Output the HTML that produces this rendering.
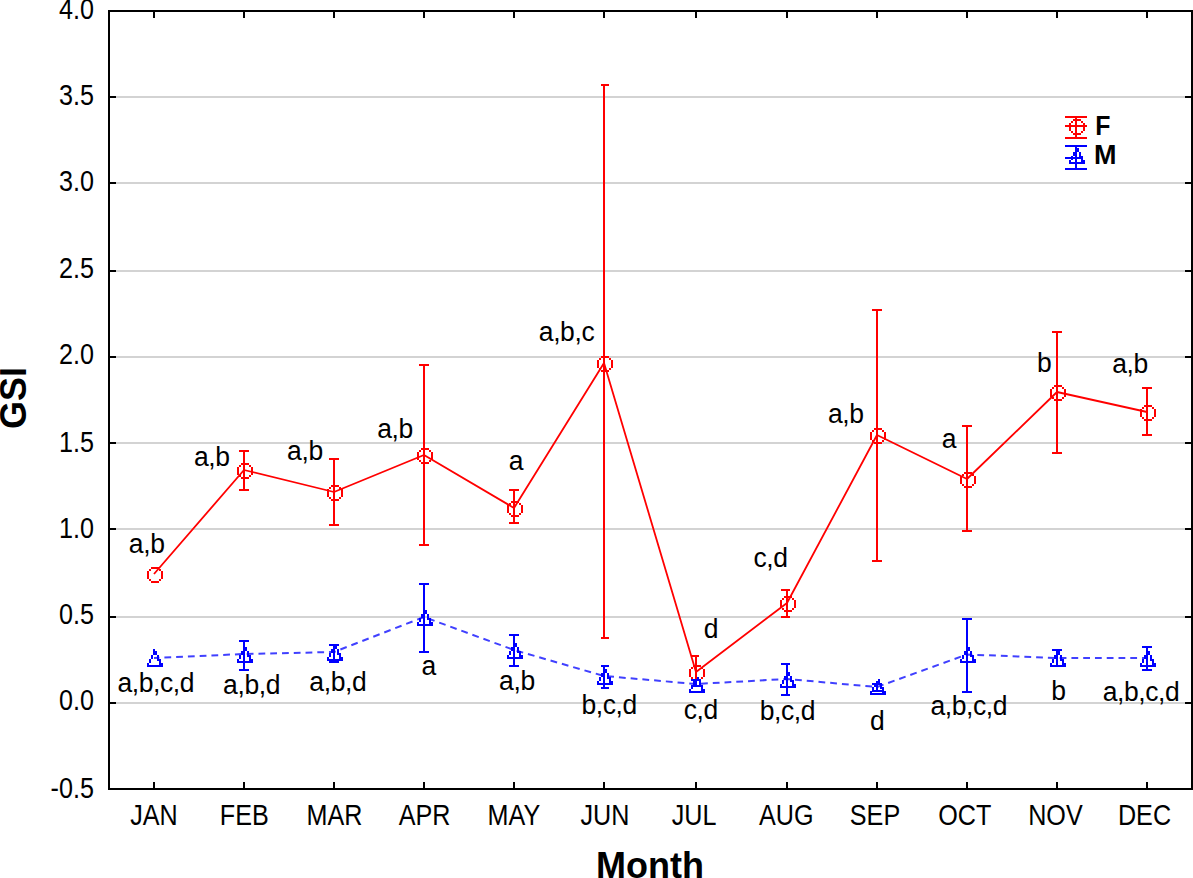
<!DOCTYPE html>
<html><head><meta charset="utf-8"><title>GSI by month</title>
<style>
html,body{margin:0;padding:0;background:#fff;overflow:hidden;}
body{width:1193px;height:878px;font-family:"Liberation Sans",sans-serif;}
svg{display:block;}
svg text{font-family:"Liberation Sans",sans-serif;}
</style></head><body>
<svg width="1193" height="878" viewBox="0 0 1193 878">
<rect width="1193" height="878" fill="#fff"/>
<g shape-rendering="crispEdges">
<rect x="116" y="96" width="1069" height="2" fill="#d3d3d3"/>
<rect x="116" y="182" width="1069" height="2" fill="#d3d3d3"/>
<rect x="116" y="270" width="1069" height="2" fill="#d3d3d3"/>
<rect x="116" y="356" width="1069" height="2" fill="#d3d3d3"/>
<rect x="116" y="442" width="1069" height="2" fill="#d3d3d3"/>
<rect x="116" y="528" width="1069" height="2" fill="#d3d3d3"/>
<rect x="116" y="616" width="1069" height="2" fill="#d3d3d3"/>
<rect x="116" y="702" width="1069" height="2" fill="#d3d3d3"/>
<rect x="108" y="10" width="1085" height="2" fill="#000"/>
<rect x="108" y="788" width="1085" height="2" fill="#000"/>
<rect x="108" y="10" width="2" height="780" fill="#000"/>
<rect x="1191" y="10" width="2" height="780" fill="#000"/>
<rect x="110" y="96" width="6" height="2" fill="#000"/>
<rect x="1185" y="96" width="6" height="2" fill="#000"/>
<rect x="110" y="182" width="6" height="2" fill="#000"/>
<rect x="1185" y="182" width="6" height="2" fill="#000"/>
<rect x="110" y="270" width="6" height="2" fill="#000"/>
<rect x="1185" y="270" width="6" height="2" fill="#000"/>
<rect x="110" y="356" width="6" height="2" fill="#000"/>
<rect x="1185" y="356" width="6" height="2" fill="#000"/>
<rect x="110" y="442" width="6" height="2" fill="#000"/>
<rect x="1185" y="442" width="6" height="2" fill="#000"/>
<rect x="110" y="528" width="6" height="2" fill="#000"/>
<rect x="1185" y="528" width="6" height="2" fill="#000"/>
<rect x="110" y="616" width="6" height="2" fill="#000"/>
<rect x="1185" y="616" width="6" height="2" fill="#000"/>
<rect x="110" y="702" width="6" height="2" fill="#000"/>
<rect x="1185" y="702" width="6" height="2" fill="#000"/>
<rect x="153" y="12" width="2" height="6" fill="#000"/>
<rect x="153" y="782" width="2" height="6" fill="#000"/>
<rect x="243" y="12" width="2" height="6" fill="#000"/>
<rect x="243" y="782" width="2" height="6" fill="#000"/>
<rect x="333" y="12" width="2" height="6" fill="#000"/>
<rect x="333" y="782" width="2" height="6" fill="#000"/>
<rect x="423" y="12" width="2" height="6" fill="#000"/>
<rect x="423" y="782" width="2" height="6" fill="#000"/>
<rect x="513" y="12" width="2" height="6" fill="#000"/>
<rect x="513" y="782" width="2" height="6" fill="#000"/>
<rect x="603" y="12" width="2" height="6" fill="#000"/>
<rect x="603" y="782" width="2" height="6" fill="#000"/>
<rect x="695" y="12" width="2" height="6" fill="#000"/>
<rect x="695" y="782" width="2" height="6" fill="#000"/>
<rect x="786" y="12" width="2" height="6" fill="#000"/>
<rect x="786" y="782" width="2" height="6" fill="#000"/>
<rect x="876" y="12" width="2" height="6" fill="#000"/>
<rect x="876" y="782" width="2" height="6" fill="#000"/>
<rect x="966" y="12" width="2" height="6" fill="#000"/>
<rect x="966" y="782" width="2" height="6" fill="#000"/>
<rect x="1056" y="12" width="2" height="6" fill="#000"/>
<rect x="1056" y="782" width="2" height="6" fill="#000"/>
<rect x="1146" y="12" width="2" height="6" fill="#000"/>
<rect x="1146" y="782" width="2" height="6" fill="#000"/>
</g>
<polyline points="154,658 244,654 334,652 424,617 514,650 604,676 696,684 787,679 877,687.0 967,654.5 1057,658 1147,658" fill="none" stroke="#0000ff" stroke-width="2" stroke-dasharray="6.8 4.97" stroke-dashoffset="1.37" opacity="0.75"/>
<polyline points="154,574 244,470 334,492 424,455 514,508 604,363 696,672 787,603 877,435 967,479 1057,392 1147,412" fill="none" stroke="#ff0000" stroke-width="1.8" stroke-linejoin="round"/>
<g shape-rendering="crispEdges">
<path d="M151 567h8v2h-8zM149 569h2v2h-2zM159 569h2v2h-2zM147 571h2v8h-2zM161 571h2v8h-2zM149 579h2v2h-2zM159 579h2v2h-2zM151 581h8v2h-8z" fill="#ff0000"/>
<rect x="243" y="450" width="2" height="41" fill="#ff0000"/>
<rect x="239" y="450" width="10" height="2" fill="#ff0000"/>
<rect x="239" y="489" width="10" height="2" fill="#ff0000"/>
<path d="M241 463h8v2h-8zM239 465h2v2h-2zM249 465h2v2h-2zM237 467h2v8h-2zM251 467h2v8h-2zM239 475h2v2h-2zM249 475h2v2h-2zM241 477h8v2h-8z" fill="#ff0000"/>
<rect x="333" y="458" width="2" height="68" fill="#ff0000"/>
<rect x="329" y="458" width="10" height="2" fill="#ff0000"/>
<rect x="329" y="524" width="10" height="2" fill="#ff0000"/>
<path d="M331 485h8v2h-8zM329 487h2v2h-2zM339 487h2v2h-2zM327 489h2v8h-2zM341 489h2v8h-2zM329 497h2v2h-2zM339 497h2v2h-2zM331 499h8v2h-8z" fill="#ff0000"/>
<rect x="423" y="364" width="2" height="182" fill="#ff0000"/>
<rect x="419" y="364" width="10" height="2" fill="#ff0000"/>
<rect x="419" y="544" width="10" height="2" fill="#ff0000"/>
<path d="M421 448h8v2h-8zM419 450h2v2h-2zM429 450h2v2h-2zM417 452h2v8h-2zM431 452h2v8h-2zM419 460h2v2h-2zM429 460h2v2h-2zM421 462h8v2h-8z" fill="#ff0000"/>
<rect x="513" y="489" width="2" height="35" fill="#ff0000"/>
<rect x="509" y="489" width="10" height="2" fill="#ff0000"/>
<rect x="509" y="522" width="10" height="2" fill="#ff0000"/>
<path d="M511 501h8v2h-8zM509 503h2v2h-2zM519 503h2v2h-2zM507 505h2v8h-2zM521 505h2v8h-2zM509 513h2v2h-2zM519 513h2v2h-2zM511 515h8v2h-8z" fill="#ff0000"/>
<rect x="603" y="84" width="2" height="555" fill="#ff0000"/>
<rect x="601" y="84" width="8" height="2" fill="#ff0000"/>
<rect x="601" y="637" width="8" height="2" fill="#ff0000"/>
<path d="M601 356h8v2h-8zM599 358h2v2h-2zM609 358h2v2h-2zM597 360h2v8h-2zM611 360h2v8h-2zM599 368h2v2h-2zM609 368h2v2h-2zM601 370h8v2h-8z" fill="#ff0000"/>
<rect x="695" y="655" width="2" height="26" fill="#ff0000"/>
<rect x="691" y="655" width="8" height="2" fill="#ff0000"/>
<rect x="691" y="679" width="8" height="2" fill="#ff0000"/>
<path d="M693 665h8v2h-8zM691 667h2v2h-2zM701 667h2v2h-2zM689 669h2v8h-2zM703 669h2v8h-2zM691 677h2v2h-2zM701 677h2v2h-2zM693 679h8v2h-8z" fill="#ff0000"/>
<rect x="786" y="589" width="2" height="29" fill="#ff0000"/>
<rect x="781" y="589" width="9" height="2" fill="#ff0000"/>
<rect x="781" y="616" width="9" height="2" fill="#ff0000"/>
<path d="M784 596h8v2h-8zM782 598h2v2h-2zM792 598h2v2h-2zM780 600h2v8h-2zM794 600h2v8h-2zM782 608h2v2h-2zM792 608h2v2h-2zM784 610h8v2h-8z" fill="#ff0000"/>
<rect x="876" y="309" width="2" height="253" fill="#ff0000"/>
<rect x="872" y="309" width="10" height="2" fill="#ff0000"/>
<rect x="872" y="560" width="10" height="2" fill="#ff0000"/>
<path d="M874 428h8v2h-8zM872 430h2v2h-2zM882 430h2v2h-2zM870 432h2v8h-2zM884 432h2v8h-2zM872 440h2v2h-2zM882 440h2v2h-2zM874 442h8v2h-8z" fill="#ff0000"/>
<rect x="966" y="425" width="2" height="107" fill="#ff0000"/>
<rect x="962" y="425" width="10" height="2" fill="#ff0000"/>
<rect x="962" y="530" width="10" height="2" fill="#ff0000"/>
<path d="M964 472h8v2h-8zM962 474h2v2h-2zM972 474h2v2h-2zM960 476h2v8h-2zM974 476h2v8h-2zM962 484h2v2h-2zM972 484h2v2h-2zM964 486h8v2h-8z" fill="#ff0000"/>
<rect x="1056" y="331" width="2" height="123" fill="#ff0000"/>
<rect x="1052" y="331" width="10" height="2" fill="#ff0000"/>
<rect x="1052" y="452" width="10" height="2" fill="#ff0000"/>
<path d="M1054 385h8v2h-8zM1052 387h2v2h-2zM1062 387h2v2h-2zM1050 389h2v8h-2zM1064 389h2v8h-2zM1052 397h2v2h-2zM1062 397h2v2h-2zM1054 399h8v2h-8z" fill="#ff0000"/>
<rect x="1146" y="387" width="2" height="49" fill="#ff0000"/>
<rect x="1142" y="387" width="10" height="2" fill="#ff0000"/>
<rect x="1142" y="434" width="10" height="2" fill="#ff0000"/>
<path d="M1144 405h8v2h-8zM1142 407h2v2h-2zM1152 407h2v2h-2zM1140 409h2v8h-2zM1154 409h2v8h-2zM1142 417h2v2h-2zM1152 417h2v2h-2zM1144 419h8v2h-8z" fill="#ff0000"/>
<path d="M153 651h4v2h-4zM153 653h4v2h-4zM151 655h2v2h-2zM157 655h2v2h-2zM151 657h2v2h-2zM157 657h2v2h-2zM149 659h2v2h-2zM157 659h4v2h-4zM149 661h2v2h-2zM159 661h2v2h-2zM147 663h2v2h-2zM159 663h4v2h-4zM147 665h16v2h-16z" fill="#0000ff"/>
<rect x="243" y="640" width="2" height="31" fill="#0000ff"/>
<rect x="239" y="640" width="10" height="2" fill="#0000ff"/>
<rect x="239" y="669" width="10" height="2" fill="#0000ff"/>
<path d="M245 647h2v2h-2zM243 649h4v2h-4zM241 651h2v2h-2zM247 651h2v2h-2zM241 653h2v2h-2zM247 653h2v2h-2zM239 655h2v2h-2zM247 655h4v2h-4zM239 657h2v2h-2zM249 657h2v2h-2zM237 659h2v2h-2zM249 659h4v2h-4zM237 661h16v2h-16z" fill="#0000ff"/>
<rect x="333" y="644" width="2" height="19" fill="#0000ff"/>
<rect x="329" y="644" width="10" height="2" fill="#0000ff"/>
<rect x="329" y="661" width="10" height="2" fill="#0000ff"/>
<path d="M335 645h2v2h-2zM333 647h4v2h-4zM331 649h2v2h-2zM337 649h2v2h-2zM331 651h2v2h-2zM337 651h2v2h-2zM329 653h2v2h-2zM337 653h4v2h-4zM329 655h2v2h-2zM339 655h2v2h-2zM327 657h2v2h-2zM339 657h4v2h-4zM327 659h16v2h-16z" fill="#0000ff"/>
<rect x="423" y="583" width="2" height="70" fill="#0000ff"/>
<rect x="419" y="583" width="10" height="2" fill="#0000ff"/>
<rect x="419" y="651" width="10" height="2" fill="#0000ff"/>
<path d="M425 610h2v2h-2zM423 612h4v2h-4zM421 614h2v2h-2zM427 614h2v2h-2zM421 616h2v2h-2zM427 616h2v2h-2zM419 618h2v2h-2zM427 618h4v2h-4zM419 620h2v2h-2zM429 620h2v2h-2zM417 622h2v2h-2zM429 622h4v2h-4zM417 624h16v2h-16z" fill="#0000ff"/>
<rect x="513" y="634" width="2" height="33" fill="#0000ff"/>
<rect x="509" y="634" width="10" height="2" fill="#0000ff"/>
<rect x="509" y="665" width="10" height="2" fill="#0000ff"/>
<path d="M515 643h2v2h-2zM513 645h4v2h-4zM511 647h2v2h-2zM517 647h2v2h-2zM511 649h2v2h-2zM517 649h2v2h-2zM509 651h2v2h-2zM517 651h4v2h-4zM509 653h2v2h-2zM519 653h2v2h-2zM507 655h2v2h-2zM519 655h4v2h-4zM507 657h16v2h-16z" fill="#0000ff"/>
<rect x="603" y="665" width="2" height="24" fill="#0000ff"/>
<rect x="601" y="665" width="8" height="2" fill="#0000ff"/>
<rect x="601" y="687" width="8" height="2" fill="#0000ff"/>
<path d="M605 669h2v2h-2zM603 671h4v2h-4zM601 673h2v2h-2zM607 673h2v2h-2zM601 675h2v2h-2zM607 675h2v2h-2zM599 677h2v2h-2zM607 677h4v2h-4zM599 679h2v2h-2zM609 679h2v2h-2zM597 681h2v2h-2zM609 681h4v2h-4zM597 683h16v2h-16z" fill="#0000ff"/>
<rect x="695" y="679" width="2" height="8" fill="#0000ff"/>
<rect x="691" y="679" width="10" height="2" fill="#0000ff"/>
<rect x="691" y="685" width="10" height="2" fill="#0000ff"/>
<path d="M697 677h2v2h-2zM695 679h4v2h-4zM693 681h2v2h-2zM699 681h2v2h-2zM693 683h2v2h-2zM699 683h2v2h-2zM691 685h2v2h-2zM699 685h4v2h-4zM691 687h2v2h-2zM701 687h2v2h-2zM689 689h2v2h-2zM701 689h4v2h-4zM689 691h16v2h-16z" fill="#0000ff"/>
<rect x="786" y="663" width="2" height="33" fill="#0000ff"/>
<rect x="781" y="663" width="9" height="2" fill="#0000ff"/>
<rect x="781" y="694" width="9" height="2" fill="#0000ff"/>
<path d="M788 672h2v2h-2zM786 674h4v2h-4zM784 676h2v2h-2zM790 676h2v2h-2zM784 678h2v2h-2zM790 678h2v2h-2zM782 680h2v2h-2zM790 680h4v2h-4zM782 682h2v2h-2zM792 682h2v2h-2zM780 684h2v2h-2zM792 684h4v2h-4zM780 686h16v2h-16z" fill="#0000ff"/>
<rect x="876" y="683" width="2" height="9" fill="#0000ff"/>
<rect x="872" y="683" width="10" height="2" fill="#0000ff"/>
<rect x="872" y="690" width="10" height="2" fill="#0000ff"/>
<path d="M878 679h2v2h-2zM876 681h4v2h-4zM874 683h2v2h-2zM880 683h2v2h-2zM874 685h2v2h-2zM880 685h2v2h-2zM872 687h2v2h-2zM880 687h4v2h-4zM872 689h2v2h-2zM882 689h2v2h-2zM870 691h2v2h-2zM882 691h4v2h-4zM870 693h16v2h-16z" fill="#0000ff"/>
<rect x="966" y="618" width="2" height="75" fill="#0000ff"/>
<rect x="962" y="618" width="10" height="2" fill="#0000ff"/>
<rect x="962" y="691" width="10" height="2" fill="#0000ff"/>
<path d="M968 647h2v2h-2zM966 649h4v2h-4zM964 651h2v2h-2zM970 651h2v2h-2zM964 653h2v2h-2zM970 653h2v2h-2zM962 655h2v2h-2zM970 655h4v2h-4zM962 657h2v2h-2zM972 657h2v2h-2zM960 659h2v2h-2zM972 659h4v2h-4zM960 661h16v2h-16z" fill="#0000ff"/>
<rect x="1056" y="649" width="2" height="18" fill="#0000ff"/>
<rect x="1052" y="649" width="10" height="2" fill="#0000ff"/>
<rect x="1052" y="665" width="10" height="2" fill="#0000ff"/>
<path d="M1058 651h2v2h-2zM1056 653h4v2h-4zM1054 655h2v2h-2zM1060 655h2v2h-2zM1054 657h2v2h-2zM1060 657h2v2h-2zM1052 659h2v2h-2zM1060 659h4v2h-4zM1052 661h2v2h-2zM1062 661h2v2h-2zM1050 663h2v2h-2zM1062 663h4v2h-4zM1050 665h16v2h-16z" fill="#0000ff"/>
<rect x="1146" y="646" width="2" height="25" fill="#0000ff"/>
<rect x="1142" y="646" width="10" height="2" fill="#0000ff"/>
<rect x="1142" y="669" width="10" height="2" fill="#0000ff"/>
<path d="M1148 651h2v2h-2zM1146 653h4v2h-4zM1144 655h2v2h-2zM1150 655h2v2h-2zM1144 657h2v2h-2zM1150 657h2v2h-2zM1142 659h2v2h-2zM1150 659h4v2h-4zM1142 661h2v2h-2zM1152 661h2v2h-2zM1140 663h2v2h-2zM1152 663h4v2h-4zM1140 665h16v2h-16z" fill="#0000ff"/>
<rect x="153" y="649" width="2" height="2" fill="#0000ff"/>
<rect x="1065" y="116" width="22" height="2" fill="#ff0000"/>
<rect x="1065" y="137" width="22" height="2" fill="#ff0000"/>
<rect x="1075" y="116" width="2" height="23" fill="#ff0000"/>
<rect x="1065" y="125" width="22" height="2" fill="#ff0000"/>
<path d="M1073 119h8v2h-8zM1071 121h2v2h-2zM1081 121h2v2h-2zM1069 123h2v8h-2zM1083 123h2v8h-2zM1071 131h2v2h-2zM1081 131h2v2h-2zM1073 133h8v2h-8z" fill="#ff0000"/>
<rect x="1065" y="145" width="22" height="2" fill="#0000ff"/>
<rect x="1065" y="168" width="22" height="2" fill="#0000ff"/>
<rect x="1075" y="145" width="2" height="25" fill="#0000ff"/>
<rect x="1065" y="157" width="10" height="2" fill="#0000ff"/>
<rect x="1077" y="157" width="6" height="2" fill="#0000ff"/>
<path d="M1077 148h2v2h-2zM1075 150h4v2h-4zM1073 152h2v2h-2zM1079 152h2v2h-2zM1073 154h2v2h-2zM1079 154h2v2h-2zM1071 156h2v2h-2zM1079 156h4v2h-4zM1071 158h2v2h-2zM1081 158h2v2h-2zM1069 160h2v2h-2zM1081 160h4v2h-4zM1069 162h16v2h-16z" fill="#0000ff"/>
</g>
<g font-size="26.5" fill="#000">
<text transform="translate(93.90,19.40) scale(0.95,1.09)" text-anchor="end">4.0</text>
<text transform="translate(93.90,105.40) scale(0.95,1.09)" text-anchor="end">3.5</text>
<text transform="translate(93.90,191.40) scale(0.95,1.09)" text-anchor="end">3.0</text>
<text transform="translate(93.90,277.80) scale(0.95,1.09)" text-anchor="end">2.5</text>
<text transform="translate(93.90,363.70) scale(0.95,1.09)" text-anchor="end">2.0</text>
<text transform="translate(93.90,451.60) scale(0.95,1.09)" text-anchor="end">1.5</text>
<text transform="translate(93.90,537.60) scale(0.95,1.09)" text-anchor="end">1.0</text>
<text transform="translate(93.90,623.70) scale(0.95,1.09)" text-anchor="end">0.5</text>
<text transform="translate(93.90,709.70) scale(0.95,1.09)" text-anchor="end">0.0</text>
<text transform="translate(93.90,797.60) scale(0.95,1.09)" text-anchor="end">-0.5</text>
<text transform="translate(154.00,825.00) scale(0.95,1.09)" text-anchor="middle">JAN</text>
<text transform="translate(244.30,825.00) scale(0.95,1.09)" text-anchor="middle">FEB</text>
<text transform="translate(334.40,825.00) scale(0.95,1.09)" text-anchor="middle">MAR</text>
<text transform="translate(424.50,825.00) scale(0.95,1.09)" text-anchor="middle">APR</text>
<text transform="translate(513.90,825.00) scale(0.95,1.09)" text-anchor="middle">MAY</text>
<text transform="translate(605.00,825.00) scale(0.95,1.09)" text-anchor="middle">JUN</text>
<text transform="translate(694.00,825.00) scale(0.95,1.09)" text-anchor="middle">JUL</text>
<text transform="translate(786.20,825.00) scale(0.95,1.09)" text-anchor="middle">AUG</text>
<text transform="translate(875.00,825.00) scale(0.95,1.09)" text-anchor="middle">SEP</text>
<text transform="translate(964.70,825.00) scale(0.95,1.09)" text-anchor="middle">OCT</text>
<text transform="translate(1055.40,825.00) scale(0.95,1.09)" text-anchor="middle">NOV</text>
<text transform="translate(1144.50,825.00) scale(0.95,1.09)" text-anchor="middle">DEC</text>
<text transform="translate(146.65,553.40) scale(1,1.03)" text-anchor="middle" letter-spacing="-0.4">a,b</text>
<text transform="translate(211.70,465.60) scale(1,1.03)" text-anchor="middle" letter-spacing="-0.4">a,b</text>
<text transform="translate(304.90,459.50) scale(1,1.03)" text-anchor="middle" letter-spacing="-0.4">a,b</text>
<text transform="translate(395.05,437.80) scale(1,1.03)" text-anchor="middle" letter-spacing="-0.4">a,b</text>
<text transform="translate(515.80,469.60) scale(1,1.03)" text-anchor="middle" letter-spacing="-0.4">a</text>
<text transform="translate(566.55,340.50) scale(1,1.03)" text-anchor="middle" letter-spacing="-0.4">a,b,c</text>
<text transform="translate(710.85,637.50) scale(1,1.03)" text-anchor="middle" letter-spacing="-0.4">d</text>
<text transform="translate(770.60,566.70) scale(1,1.03)" text-anchor="middle" letter-spacing="-0.4">c,d</text>
<text transform="translate(845.85,422.70) scale(1,1.03)" text-anchor="middle" letter-spacing="-0.4">a,b</text>
<text transform="translate(948.95,447.90) scale(1,1.03)" text-anchor="middle" letter-spacing="-0.4">a</text>
<text transform="translate(1044.15,371.50) scale(1,1.03)" text-anchor="middle" letter-spacing="-0.4">b</text>
<text transform="translate(1130.05,373.40) scale(1,1.03)" text-anchor="middle" letter-spacing="-0.4">a,b</text>
<text transform="translate(155.75,692.40) scale(1,1.03)" text-anchor="middle" letter-spacing="-0.4">a,b,c,d</text>
<text transform="translate(251.55,693.90) scale(1,1.03)" text-anchor="middle" letter-spacing="-0.4">a,b,d</text>
<text transform="translate(337.80,690.50) scale(1,1.03)" text-anchor="middle" letter-spacing="-0.4">a,b,d</text>
<text transform="translate(428.65,674.50) scale(1,1.03)" text-anchor="middle" letter-spacing="-0.4">a</text>
<text transform="translate(516.90,690.40) scale(1,1.03)" text-anchor="middle" letter-spacing="-0.4">a,b</text>
<text transform="translate(609.15,713.90) scale(1,1.03)" text-anchor="middle" letter-spacing="-0.4">b,c,d</text>
<text transform="translate(700.70,719.20) scale(1,1.03)" text-anchor="middle" letter-spacing="-0.4">c,d</text>
<text transform="translate(787.35,719.50) scale(1,1.03)" text-anchor="middle" letter-spacing="-0.4">b,c,d</text>
<text transform="translate(877.15,729.50) scale(1,1.03)" text-anchor="middle" letter-spacing="-0.4">d</text>
<text transform="translate(968.75,715.30) scale(1,1.03)" text-anchor="middle" letter-spacing="-0.4">a,b,c,d</text>
<text transform="translate(1058.35,699.70) scale(1,1.03)" text-anchor="middle" letter-spacing="-0.4">b</text>
<text transform="translate(1141.00,701.40) scale(1,1.03)" text-anchor="middle" letter-spacing="-0.4">a,b,c,d</text>
</g>
<g font-weight="bold" fill="#000">
<text transform="translate(1095.3,135) scale(0.92,1)" font-size="27">F</text>
<text x="1094" y="164" font-size="27">M</text>
<text x="650" y="878" font-size="36" text-anchor="middle">Month</text>
<text transform="translate(25.5,398) rotate(-90)" font-size="36" text-anchor="middle">GSI</text>
</g>
</svg>
</body></html>
